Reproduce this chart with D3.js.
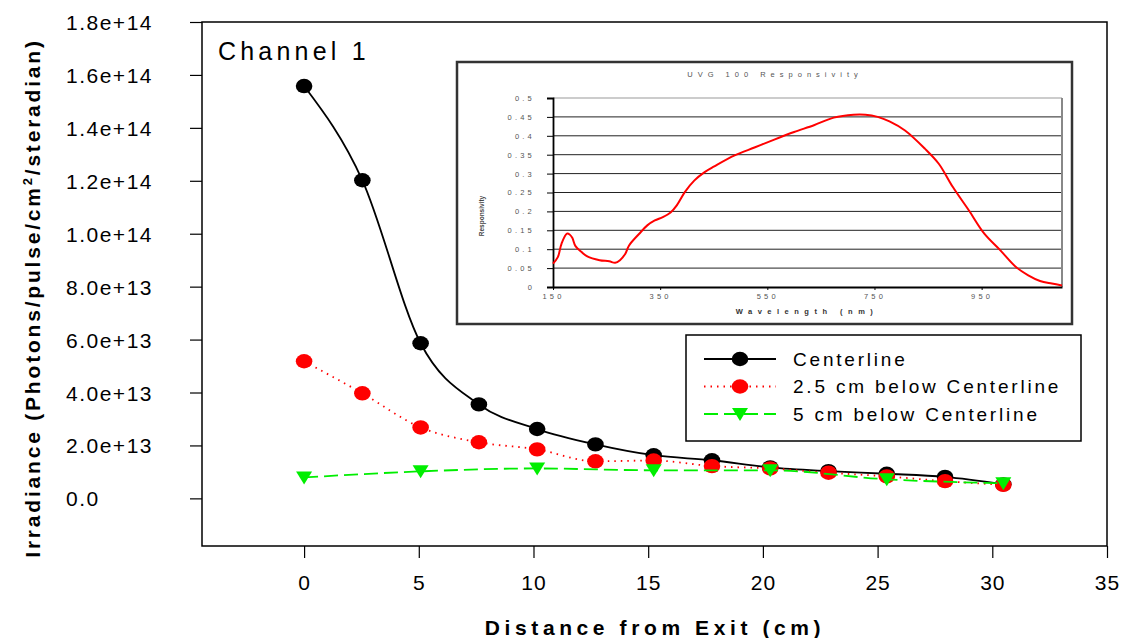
<!DOCTYPE html>
<html>
<head>
<meta charset="utf-8">
<script src="https://cdn.jsdelivr.net/npm/d3@7"></script>
<style>
  html, body { margin: 0; padding: 0; background: #fff; }
  svg { display: block; font-family: "Liberation Sans", Arial, sans-serif; }
</style>
</head>
<body>
<svg id="chart" width="1124" height="638"></svg>
<script>
// Irradiance versus distance from the exit, three measurement heights
const distance = [0, 2.54, 5.08, 7.62, 10.16, 12.7, 15.24, 17.78, 20.32, 22.86, 25.4, 27.94, 30.48];
const centerline = [1.558e14, 1.202e14, 5.86e13, 3.55e13, 2.62e13, 2.04e13, 1.63e13, 1.44e13, 1.17e13, 1.03e13, 9.3e12, 8.1e12, 5.3e12];
const below25 = [5.18e13, 3.97e13, 2.68e13, 2.12e13, 1.85e13, 1.40e13, 1.43e13, 1.22e13, 1.13e13, 9.7e12, 8.3e12, 6.5e12, 5.1e12];
const distance5 = [0, 5.08, 10.16, 15.24, 20.32, 25.4, 30.48];
const below5 = [7.9e12, 1.02e13, 1.13e13, 1.06e13, 1.06e13, 7.2e12, 5.7e12];

const xTicks = [0, 5, 10, 15, 20, 25, 30, 35];
const yTicks = [0, 2e13, 4e13, 6e13, 8e13, 1e14, 1.2e14, 1.4e14, 1.6e14, 1.8e14];
const yTickLabels = ["0.0", "2.0e+13", "4.0e+13", "6.0e+13", "8.0e+13", "1.0e+14", "1.2e+14", "1.4e+14", "1.6e+14", "1.8e+14"];
const seriesNames = ["Centerline", "2.5 cm below Centerline", "5 cm below Centerline"];

// UVG 100 detector responsivity curve (inset)
const wavelength = [150, 159, 166, 176, 181, 186, 192, 203, 214, 237, 255, 266, 275, 285, 292, 311, 326, 340, 355, 370, 381, 396, 414, 433, 451, 489, 526, 563, 600, 637, 674, 711, 733, 756, 778, 807, 844, 870, 896, 926, 955, 985, 1014, 1037, 1059, 1081, 1100];
const responsivity = [0.062, 0.079, 0.115, 0.141, 0.139, 0.130, 0.108, 0.093, 0.081, 0.071, 0.068, 0.064, 0.071, 0.088, 0.110, 0.141, 0.163, 0.176, 0.185, 0.198, 0.216, 0.251, 0.282, 0.304, 0.319, 0.348, 0.369, 0.390, 0.410, 0.428, 0.448, 0.456, 0.456, 0.450, 0.438, 0.414, 0.366, 0.326, 0.265, 0.203, 0.141, 0.097, 0.053, 0.031, 0.016, 0.009, 0.004];
const insetXTicks = [150, 350, 550, 750, 950];
const insetYTicks = [0, 0.05, 0.1, 0.15, 0.2, 0.25, 0.3, 0.35, 0.4, 0.45, 0.5];

const FONT = "Liberation Sans, Arial, sans-serif";
const svg = d3.select("#chart");

// ---- main plot frame and scales ----
const L = 202, R = 1107, T = 22, B = 546;
const x = d3.scaleLinear().domain([-4.45, 35]).range([L, R]);
const y = d3.scaleLinear().domain([-1.8e13, 1.8e14]).range([B, T]);

// y axis
const yAxis = svg.append("g").attr("transform", `translate(${L},0)`)
  .call(d3.axisLeft(y).tickValues(yTicks).tickSize(12)
    .tickFormat((d, i) => yTickLabels[i]));
yAxis.select(".domain").remove();
yAxis.selectAll("line").attr("stroke", "#000").attr("stroke-width", 1.2);
yAxis.selectAll("text")
  .attr("x", -(L - 66)).attr("dy", "0.36em")
  .attr("text-anchor", "start")
  .attr("font-size", 21).attr("letter-spacing", 1.5)
  .attr("fill", "#000").attr("font-family", FONT);

// x axis
const xAxis = svg.append("g").attr("transform", `translate(0,${B})`)
  .call(d3.axisBottom(x).tickValues(xTicks).tickSize(12));
xAxis.select(".domain").remove();
xAxis.selectAll("line").attr("stroke", "#000").attr("stroke-width", 1.2);
xAxis.selectAll("text")
  .attr("y", 44).attr("dy", null)
  .attr("font-size", 21).attr("letter-spacing", 1)
  .attr("fill", "#000").attr("font-family", FONT);

svg.append("rect")
  .attr("x", L).attr("y", T).attr("width", R - L).attr("height", B - T)
  .attr("fill", "none").attr("stroke", "#000").attr("stroke-width", 1.5);

// axis titles
svg.append("text")
  .attr("x", 655).attr("y", 635)
  .attr("text-anchor", "middle").attr("font-weight", "bold")
  .attr("font-size", 21).attr("letter-spacing", 4.6)
  .text("Distance from Exit (cm)");

const yTitle = svg.append("text")
  .attr("transform", "translate(40,298) rotate(-90)")
  .attr("text-anchor", "middle").attr("font-weight", "bold")
  .attr("font-size", 21).attr("letter-spacing", 2.8);
yTitle.append("tspan").text("Irradiance (Photons/pulse/cm");
yTitle.append("tspan").attr("font-size", 13).attr("dy", -8).text("2");
yTitle.append("tspan").attr("dy", 8).text("/steradian)");

svg.append("text")
  .attr("x", 218).attr("y", 60)
  .attr("font-size", 25).attr("letter-spacing", 4.2)
  .text("Channel 1");

// ---- series ----
const series = [
  { name: seriesNames[0], xs: distance, ys: centerline, color: "#000", dash: null, width: 1.8, marker: "circle" },
  { name: seriesNames[1], xs: distance, ys: below25, color: "#ff0000", dash: "1.5,5", width: 1.8, marker: "circle" },
  { name: seriesNames[2], xs: distance5, ys: below5, color: "#00ee00", dash: "14,6", width: 1.8, marker: "triangle" }
];

const line = d3.line().x(d => x(d[0])).y(d => y(d[1])).curve(d3.curveMonotoneX);
const triPath = "M-8,-6L8,-6L0,7Z";

function drawMarker(g, type, color, cx, cy) {
  if (type === "circle") {
    g.append("ellipse").attr("cx", cx).attr("cy", cy).attr("rx", 8.3).attr("ry", 7.2).attr("fill", color);
  } else {
    g.append("path").attr("d", triPath).attr("transform", `translate(${cx},${cy})`).attr("fill", color);
  }
}

series.forEach(s => {
  const pts = s.xs.map((v, i) => [v, s.ys[i]]);
  const g = svg.append("g");
  g.append("path").attr("d", line(pts))
    .attr("fill", "none").attr("stroke", s.color).attr("stroke-width", s.width)
    .attr("stroke-dasharray", s.dash);
  pts.forEach(p => drawMarker(g, s.marker, s.color, x(p[0]), y(p[1])));
});

// ---- legend ----
const lg = svg.append("g");
lg.append("rect").attr("x", 686).attr("y", 335).attr("width", 395).attr("height", 106)
  .attr("fill", "#fff").attr("stroke", "#000").attr("stroke-width", 1.5);
series.forEach((s, i) => {
  const cy = 359 + i * 27.5;
  lg.append("line").attr("x1", 704).attr("x2", 776).attr("y1", cy).attr("y2", cy)
    .attr("stroke", s.color).attr("stroke-width", s.width).attr("stroke-dasharray", s.dash);
  drawMarker(lg, s.marker, s.color, 740, cy);
  lg.append("text").attr("x", 793).attr("y", cy).attr("dy", "0.36em")
    .attr("font-size", 19).attr("letter-spacing", 2.8).text(s.name);
});

// ---- inset: responsivity ----
const ins = svg.append("g");
ins.append("rect").attr("x", 457).attr("y", 62).attr("width", 615).attr("height", 262)
  .attr("fill", "#fff").attr("stroke", "#333").attr("stroke-width", 2.5);

const iL = 553, iR = 1062, iT = 98, iB = 287;
const ix = d3.scaleLinear().domain([150, 1100]).range([iL, iR]);
const iy = d3.scaleLinear().domain([0, 0.5]).range([iB, iT]);

// horizontal grid
ins.append("g").selectAll("line").data(insetYTicks.filter(v => v > 0)).join("line")
  .attr("x1", iL).attr("x2", iR).attr("y1", d => iy(d)).attr("y2", d => iy(d))
  .attr("stroke", d => d === 0.5 ? "#999" : "#222").attr("stroke-width", 1);
ins.append("line").attr("x1", iR).attr("x2", iR).attr("y1", iT).attr("y2", iB)
  .attr("stroke", "#888").attr("stroke-width", 2);

const iyAxis = ins.append("g").attr("transform", `translate(${iL},0)`)
  .call(d3.axisLeft(iy).tickValues(insetYTicks).tickSize(6).tickPadding(12)
    .tickFormat(d => d === 0 ? "0" : String(d)));
iyAxis.select(".domain").attr("stroke", "#000").attr("stroke-width", 1.8);
iyAxis.selectAll("line").attr("stroke", "#000");
iyAxis.selectAll("text").attr("font-size", 7.5).attr("letter-spacing", 3.2)
  .attr("fill", "#555").attr("font-family", FONT);

const ixAxis = ins.append("g").attr("transform", `translate(0,${iB})`)
  .call(d3.axisBottom(ix).tickValues(insetXTicks).tickSize(3).tickSizeOuter(0).tickPadding(4));
ixAxis.select(".domain").attr("stroke", "#000").attr("stroke-width", 2.2);
ixAxis.selectAll("line").attr("stroke", "#000");
ixAxis.selectAll("text").attr("font-size", 7.5).attr("letter-spacing", 3.2)
  .attr("fill", "#555").attr("font-family", FONT);

const rLine = d3.line().x(d => ix(d[0])).y(d => iy(d[1])).curve(d3.curveCatmullRom);
ins.append("path").attr("d", rLine(wavelength.map((w, i) => [w, responsivity[i]])))
  .attr("fill", "none").attr("stroke", "#ff0000").attr("stroke-width", 2);

ins.append("text").attr("x", 775).attr("y", 77).attr("text-anchor", "middle")
  .attr("font-size", 7.5).attr("letter-spacing", 5).attr("fill", "#555")
  .text("UVG 100 Responsivity");
ins.append("text").attr("x", 807).attr("y", 314).attr("text-anchor", "middle")
  .attr("font-size", 7.5).attr("font-weight", "bold").attr("letter-spacing", 5.5).attr("fill", "#333")
  .text("Wavelength (nm)");
ins.append("text").attr("transform", "translate(484,216) rotate(-90)").attr("text-anchor", "middle")
  .attr("font-size", 6.5).attr("font-weight", "bold").attr("fill", "#444")
  .text("Responsivity");
</script>
</body>
</html>
